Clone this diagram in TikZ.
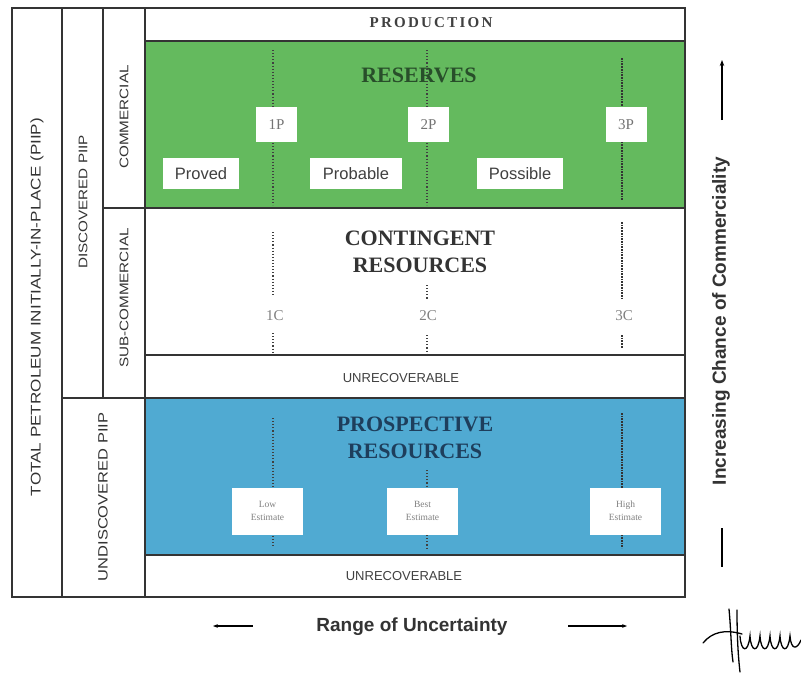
\documentclass[tikz,border=0pt]{standalone}
\usepackage{fontspec}
\setmainfont{Liberation Serif}
\setsansfont{Liberation Sans}
\newfontfamily\widesans[FakeStretch=1.22]{Liberation Sans}
\usetikzlibrary{arrows.meta}

\definecolor{resgreen}{RGB}{100,186,94}
\definecolor{prosblue}{RGB}{80,170,210}
\definecolor{resdark}{RGB}{40,78,42}
\definecolor{prosdark}{RGB}{30,62,92}
\definecolor{framegray}{RGB}{52,52,52}

\tikzset{
  frameline/.style={draw=framegray, line width=1.7pt},
  tick/.style={draw=black!75, dotted, line width=1.1pt},
  tickheavy/.style={draw=black!80, densely dotted, line width=1.7pt},
  sidelabel/.style={rotate=90, font=\widesans\fontsize{12.5}{12.5}\selectfont, text=black!80},
  heading/.style={font=\bfseries\fontsize{22}{27}\selectfont, align=center},
  pbox/.style={fill=white, inner sep=0pt, minimum width=41pt, minimum height=35pt,
    font=\fontsize{15}{15}\selectfont, text=black!55},
  classbox/.style={fill=white, inner sep=0pt, minimum height=31pt,
    font=\sffamily\fontsize{16.5}{16.5}\selectfont, text=black!75},
  estbox/.style={fill=white, inner sep=0pt, minimum width=71pt, minimum height=47pt,
    align=center, font=\fontsize{9.5}{13}\selectfont, text=black!50},
  clabel/.style={font=\fontsize{15}{15}\selectfont, text=black!50},
  unrec/.style={font=\sffamily\fontsize{13}{13}\selectfont, text=black!75},
  axislabel/.style={font=\sffamily\bfseries\fontsize{19}{19}\selectfont, text=black!80},
}

\begin{document}
\begin{tikzpicture}[x=1pt, y=-1pt]
  \useasboundingbox (0,0) rectangle (801,675);

  % class fills
  \fill[resgreen] (145,41) rectangle (685,208);
  \fill[prosblue] (145,398) rectangle (685,555);

  % uncertainty ticks
  \draw[tick] (273,50) -- (273,205);
  \draw[tick] (427,50) -- (427,205);
  \draw[tickheavy] (622,58) -- (622,200);
  \draw[tick] (273,232) -- (273,296);
  \draw[tick] (273,333) -- (273,355);
  \draw[tick] (427,285) -- (427,300);
  \draw[tick] (427,335) -- (427,355);
  \draw[tickheavy] (622,222) -- (622,298);
  \draw[tickheavy] (622,335) -- (622,348);
  \draw[tick] (273,418) -- (273,548);
  \draw[tick] (427,470) -- (427,548);
  \draw[tickheavy] (622,413) -- (622,548);

  % frame
  \draw[frameline] (12,8) rectangle (685,597);
  \draw[frameline] (62,8) -- (62,597);
  \draw[frameline] (103,8) -- (103,398);
  \draw[frameline] (145,8) -- (145,597);
  \draw[frameline] (145,41) -- (685,41);
  \draw[frameline] (103,208) -- (685,208);
  \draw[frameline] (145,355) -- (685,355);
  \draw[frameline] (62,398) -- (685,398);
  \draw[frameline] (145,555) -- (685,555);

  % side labels
  \node[sidelabel, font=\widesans\fontsize{14}{14}\selectfont] (total) at (37,307) {TOTAL PETROLEUM INITIALLY-IN-PLACE (PIIP)};
  \node[sidelabel] (discovered) at (83,202) {DISCOVERED PIIP};
  \node[sidelabel] (commercial) at (124,117) {COMMERCIAL};
  \node[sidelabel] (subcomm) at (124,298) {SUB-COMMERCIAL};
  \node[sidelabel, font=\widesans\fontsize{13.5}{13.5}\selectfont] (undiscovered) at (103,497) {UNDISCOVERED PIIP};

  % class headings
  \node[font=\bfseries\fontsize{15}{15}\selectfont\addfontfeature{LetterSpace=15}, text=black!75] (production) at (431,23) {PRODUCTION};
  \node[heading, text=resdark] (reserves) at (419,75) {RESERVES};
  \node[heading, text=black!80] (contingent) at (420,252) {CONTINGENT\\RESOURCES};
  \node[heading, text=prosdark] (prospective) at (415,437.5) {PROSPECTIVE\\RESOURCES};
  \node[unrec] (unrecA) at (401,378) {UNRECOVERABLE};
  \node[unrec] (unrecB) at (404,576) {UNRECOVERABLE};

  % reserves boxes
  \node[pbox] (n1P) at (276.5,124.5) {1P};
  \node[pbox] (n2P) at (428.5,124.5) {2P};
  \node[pbox] (n3P) at (626,124.5) {3P};
  \node[classbox, minimum width=76pt] (proved) at (201,173.5) {Proved};
  \node[classbox, minimum width=92pt] (probable) at (356,173.5) {Probable};
  \node[classbox, minimum width=86pt] (possible) at (520,173.5) {Possible};

  % contingent labels
  \node[clabel] (c1) at (275,316) {1C};
  \node[clabel] (c2) at (428,316) {2C};
  \node[clabel] (c3) at (624,316) {3C};

  % prospective boxes
  \node[estbox] (low) at (267.5,511) {Low\\Estimate};
  \node[estbox] (best) at (422.5,511) {Best\\Estimate};
  \node[estbox] (high) at (625.5,511) {High\\Estimate};

  % axes
  \node[axislabel, rotate=90] (chance) at (721,321) {Increasing Chance of Commerciality};
  \draw[line width=1.5pt, -{Stealth[length=6pt]}] (722,120) -- (722,60);
  \draw[line width=1.5pt] (722,528) -- (722,567);
  \node[axislabel] (range) at (412,627) {Range of Uncertainty};
  \draw[line width=1.2pt, {Stealth[length=5pt]}-] (213,626) -- (253,626);
  \draw[line width=1.2pt, -{Stealth[length=5pt]}] (568,626) -- (627,626);

  % signature
  \draw[line width=1.3pt, line cap=round]
    (703,643) .. controls (712,632) and (725,629) .. (742,634);
  \draw[line width=1.3pt, line cap=round]
    (729,609) .. controls (731,630) and (731,648) .. (733,662);
  \draw[line width=1.3pt, line cap=round]
    (737,610) .. controls (737,635) and (738,655) .. (740,672);
  \draw[line width=1.3pt, line cap=round]
    (740,636) .. controls (741,652) and (748,654) .. (750,636)
    .. controls (751,652) and (758,654) .. (760,636)
    .. controls (761,652) and (768,654) .. (770,636)
    .. controls (771,652) and (778,654) .. (780,636)
    .. controls (781,652) and (788,654) .. (790,636)
    .. controls (791,650) and (797,650) .. (801,640);
\end{tikzpicture}
\end{document}
